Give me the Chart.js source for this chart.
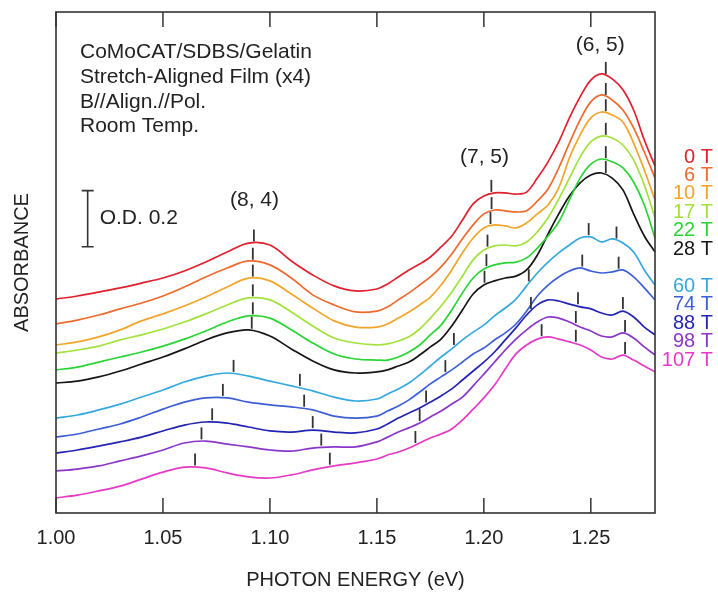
<!DOCTYPE html>
<html>
<head>
<meta charset="utf-8">
<script src="https://cdn.jsdelivr.net/npm/chart.js@4.4.1/dist/chart.umd.min.js"></script>
<style>
html,body{margin:0;padding:0;background:#fff;}
#wrap{width:718px;height:595px;position:relative;}
</style>
</head>
<body>
<div id="wrap"><canvas id="c"></canvas></div>
<script>
// ---- data (photon energy in eV, absorbance in O.D. with vertical offsets) ----
const energies = [1.00,1.01,1.02,1.03,1.04,1.05,1.06,1.07,1.08,1.09,1.10,1.11,1.12,1.13,1.14,1.15,
  1.155,1.16,1.165,1.17,1.175,1.18,1.185,1.19,1.195,1.20,1.205,1.21,1.215,1.22,1.225,1.23,1.235,1.24,1.245,1.25,1.255,1.26,1.265,1.27,1.275,1.28];

const fieldLabels = ['0 T','6 T','10 T','17 T','22 T','28 T','60 T','74 T','88 T','98 T','107 T'];

const abs0T   = [0.764,0.775,0.789,0.804,0.821,0.839,0.864,0.896,0.932,0.964,0.957,0.900,0.850,0.811,0.793,0.800,0.818,0.843,0.868,0.889,0.914,0.950,0.989,1.046,1.104,1.132,1.143,1.143,1.139,1.146,1.196,1.254,1.325,1.411,1.486,1.546,1.568,1.550,1.511,1.439,1.332,1.239];
const abs6T   = [0.675,0.689,0.707,0.729,0.750,0.775,0.807,0.843,0.875,0.900,0.886,0.839,0.779,0.743,0.718,0.721,0.736,0.761,0.786,0.814,0.843,0.879,0.925,0.979,1.029,1.068,1.082,1.079,1.075,1.079,1.114,1.157,1.232,1.321,1.404,1.468,1.493,1.475,1.439,1.375,1.289,1.196];
const abs10T  = [0.600,0.611,0.629,0.654,0.686,0.711,0.739,0.771,0.807,0.839,0.829,0.782,0.732,0.686,0.664,0.664,0.675,0.696,0.718,0.743,0.771,0.814,0.868,0.929,0.982,1.018,1.029,1.025,1.018,1.036,1.068,1.100,1.161,1.268,1.350,1.411,1.432,1.421,1.396,1.321,1.225,1.118];
const abs17T  = [0.571,0.582,0.596,0.618,0.636,0.657,0.682,0.711,0.743,0.768,0.761,0.718,0.668,0.625,0.607,0.600,0.604,0.614,0.629,0.657,0.696,0.739,0.789,0.846,0.904,0.939,0.954,0.957,0.954,0.968,1.004,1.054,1.121,1.196,1.271,1.325,1.346,1.339,1.314,1.261,1.171,1.054];
const abs22T  = [0.511,0.521,0.539,0.557,0.575,0.596,0.621,0.650,0.682,0.704,0.696,0.654,0.607,0.568,0.550,0.546,0.546,0.557,0.575,0.600,0.636,0.671,0.725,0.786,0.839,0.871,0.886,0.893,0.896,0.911,0.946,0.989,1.039,1.118,1.196,1.246,1.264,1.254,1.232,1.182,1.100,0.982];
const abs28T  = [0.464,0.471,0.486,0.507,0.532,0.557,0.586,0.618,0.643,0.654,0.632,0.586,0.543,0.511,0.500,0.504,0.511,0.525,0.539,0.564,0.593,0.621,0.668,0.725,0.782,0.814,0.829,0.839,0.846,0.868,0.921,0.996,1.068,1.132,1.179,1.207,1.214,1.196,1.154,1.068,0.989,0.932];
const abs60T  = [0.339,0.350,0.368,0.389,0.414,0.439,0.468,0.489,0.500,0.489,0.471,0.454,0.436,0.414,0.400,0.407,0.425,0.443,0.464,0.493,0.525,0.557,0.586,0.618,0.646,0.671,0.704,0.732,0.764,0.811,0.857,0.896,0.929,0.957,0.982,0.986,0.968,0.979,0.964,0.932,0.868,0.814];
const abs74T  = [0.271,0.282,0.300,0.318,0.343,0.371,0.396,0.411,0.411,0.396,0.386,0.379,0.368,0.346,0.339,0.346,0.364,0.382,0.404,0.432,0.461,0.486,0.511,0.539,0.568,0.589,0.618,0.643,0.675,0.721,0.775,0.814,0.843,0.864,0.875,0.864,0.857,0.861,0.868,0.843,0.804,0.761];
const abs88T  = [0.214,0.225,0.239,0.254,0.271,0.293,0.314,0.325,0.321,0.307,0.293,0.289,0.296,0.289,0.286,0.300,0.318,0.339,0.357,0.375,0.396,0.418,0.443,0.475,0.507,0.539,0.575,0.618,0.661,0.707,0.743,0.761,0.757,0.746,0.736,0.729,0.714,0.707,0.721,0.700,0.664,0.636];
const abs98T  = [0.150,0.157,0.168,0.186,0.204,0.225,0.250,0.257,0.246,0.236,0.225,0.221,0.232,0.236,0.236,0.254,0.271,0.289,0.304,0.321,0.343,0.364,0.389,0.414,0.454,0.496,0.539,0.582,0.621,0.654,0.682,0.700,0.696,0.682,0.664,0.650,0.632,0.629,0.643,0.625,0.593,0.564];
const abs107T = [0.054,0.064,0.079,0.096,0.121,0.146,0.164,0.161,0.143,0.129,0.125,0.136,0.154,0.168,0.179,0.193,0.207,0.218,0.232,0.250,0.268,0.282,0.300,0.332,0.371,0.411,0.457,0.514,0.568,0.600,0.621,0.629,0.621,0.611,0.600,0.582,0.557,0.550,0.564,0.546,0.525,0.504];

// peak positions (eV) marked on each spectrum
const ticks0T   = [1.0925,1.2035,1.257];
const ticks6T   = [1.092,1.2036,1.257];
const ticks10T  = [1.092,1.2031,1.257];
const ticks17T  = [1.092,1.2017,1.257];
const ticks22T  = [1.092,1.2012,1.257];
const ticks28T  = [1.0915,1.2003,1.257];
const ticks60T  = [1.083,1.114,1.186,1.221,1.249,1.262];
const ticks74T  = [1.078,1.116,1.182,1.246,1.263];
const ticks88T  = [1.073,1.120,1.173,1.222,1.244,1.265];
const ticks98T  = [1.068,1.124,1.170,1.243,1.266];
const ticks107T = [1.065,1.128,1.168,1.227,1.243,1.266];

const xTickValues = [1.00,1.05,1.10,1.15,1.20,1.25];
const peakLabels = ['(8, 4)','(7, 5)','(6, 5)'];
const peakLabelEnergies = [1.0928,1.2003,1.2544];
const infoLines = ['CoMoCAT/SDBS/Gelatin','Stretch-Aligned Film (x4)','B//Align.//Pol.','Room Temp.'];
const scaleBarOD = 0.2, scaleBarBase = 0.951, scaleBarEnergy = 1.0148;

// ---- styles ----
const curveColors = ['#e0202e','#ee6a2e','#f2a52a','#a2e23c','#2bd435','#151515','#35a8de','#3d5fd6','#2424b2','#8a36c8','#e63ac6'];
const FONT = '"Liberation Sans", Arial, Helvetica, sans-serif';
const TXT = '#222';

const seriesList = [abs0T,abs6T,abs10T,abs17T,abs22T,abs28T,abs60T,abs74T,abs88T,abs98T,abs107T];
const tickList = [ticks0T,ticks6T,ticks10T,ticks17T,ticks22T,ticks28T,ticks60T,ticks74T,ticks88T,ticks98T,ticks107T];

function interp(series, e){
  for(let j=0;j<energies.length-1;j++){
    if(e>=energies[j] && e<=energies[j+1]){
      const t=(e-energies[j])/(energies[j+1]-energies[j]);
      return series[j]+(series[j+1]-series[j])*t;
    }
  }
  return series[series.length-1];
}

const datasets = fieldLabels.map((lab,i)=>({
  label: lab,
  data: energies.map((e,j)=>({x:e, y:seriesList[i][j]})),
  borderColor: curveColors[i],
  borderWidth: 1.7,
  pointRadius: 0,
  tension: 0.35,
  fill: false
}));

const decor = {
  id: 'decor',
  afterDatasetsDraw(chart){
    const {ctx, chartArea:a, scales:{x, y}} = chart;
    ctx.save();
    // peak ticks
    ctx.strokeStyle = '#333';
    ctx.lineWidth = 1.8;
    tickList.forEach((arr,i)=>arr.forEach(e=>{
      const px = x.getPixelForValue(e);
      const py = y.getPixelForValue(interp(seriesList[i], e));
      ctx.beginPath(); ctx.moveTo(px, py-2); ctx.lineTo(px, py-14); ctx.stroke();
    }));
    // frame
    ctx.strokeStyle = '#333';
    ctx.lineWidth = 1.6;
    ctx.strokeRect(a.left, a.top, a.right-a.left, a.bottom-a.top);
    // inward axis ticks (bottom and top)
    ctx.lineWidth = 1.5;
    x.ticks.forEach(t=>{
      const px = x.getPixelForValue(t.value);
      ctx.beginPath(); ctx.moveTo(px, a.bottom); ctx.lineTo(px, a.bottom-15); ctx.stroke();
      ctx.beginPath(); ctx.moveTo(px, a.top); ctx.lineTo(px, a.top+15); ctx.stroke();
    });
    // scale bar
    const bx = x.getPixelForValue(scaleBarEnergy);
    const by1 = y.getPixelForValue(scaleBarBase);
    const by2 = y.getPixelForValue(scaleBarBase+scaleBarOD);
    ctx.lineWidth = 1.6;
    ctx.beginPath();
    ctx.moveTo(bx, by1); ctx.lineTo(bx, by2);
    ctx.moveTo(bx-6, by1); ctx.lineTo(bx+6, by1);
    ctx.moveTo(bx-6, by2); ctx.lineTo(bx+6, by2);
    ctx.stroke();
    ctx.fillStyle = TXT;
    ctx.font = '21px ' + FONT;
    ctx.textAlign = 'left';
    ctx.textBaseline = 'middle';
    ctx.fillText('O.D. ' + scaleBarOD.toFixed(1), bx+12, (by1+by2)/2);
    // info text
    ctx.textBaseline = 'alphabetic';
    const base = [58, 83, 108, 132];
    infoLines.forEach((s,i)=>ctx.fillText(s, 80, base[i]));
    // peak labels
    ctx.textAlign = 'center';
    ctx.textBaseline = 'middle';
    const ly = [200, 157, 45];
    peakLabels.forEach((s,i)=>ctx.fillText(s, x.getPixelForValue(peakLabelEnergies[i]), ly[i]));
    // field legend
    ctx.font = '20px ' + FONT;
    ctx.textAlign = 'right';
    fieldLabels.forEach((s,i)=>{
      const yy = i<6 ? 157 + i*18.4 : 286 + (i-6)*18.5;
      ctx.fillStyle = curveColors[i];
      ctx.fillText(s, 713, yy);
    });
    ctx.restore();
  }
};

new Chart(document.getElementById('c'), {
  type: 'line',
  data: { datasets },
  options: {
    responsive: true,
    maintainAspectRatio: false,
    animation: false,
    devicePixelRatio: 1,
    layout: { padding: { top: 12, right: 63, left: 0, bottom: 0 } },
    plugins: { legend: { display: false }, tooltip: { enabled: false } },
    scales: {
      x: {
        type: 'linear',
        min: 1.00, max: 1.28,
        afterBuildTicks: s => { s.ticks = xTickValues.map(v=>({value:v})); },
        afterFit: s => { s.height = 82; },
        grid: { display: false, drawTicks: false },
        border: { display: false },
        ticks: { padding: 13, color: TXT, font: { size: 20, family: FONT }, callback: v => Number(v).toFixed(2) },
        title: { display: true, text: 'PHOTON ENERGY (eV)', color: TXT, font: { size: 20, family: FONT }, padding: { top: 0, bottom: 3 } }
      },
      y: {
        min: 0, max: 1.789,
        afterFit: s => { s.width = 56; },
        grid: { display: false, drawTicks: false },
        border: { display: false },
        ticks: { display: false },
        title: { display: true, text: 'ABSORBANCE', color: TXT, font: { size: 20, family: FONT }, padding: { top: 10, bottom: 0 } }
      }
    }
  },
  plugins: [decor]
});
</script>
</body>
</html>
